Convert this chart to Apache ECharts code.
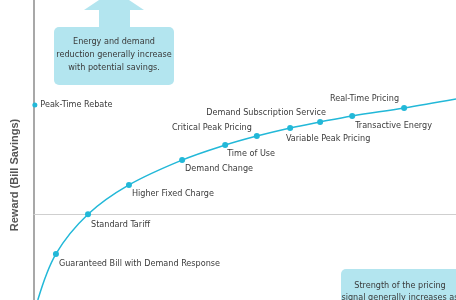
<!DOCTYPE html>
<html>
<head>
<meta charset="utf-8">
<style>html,body{margin:0;padding:0;background:#fff}#c{width:456px;height:300px}</style>
<script src="https://cdn.jsdelivr.net/npm/echarts@6/dist/echarts.min.js"></script>
</head>
<body>
<div id="c"></div>
<script>
// Rate designs along the risk/reward curve (x: signal strength, y: reward)
var names = ['Guaranteed Bill with Demand Response','Standard Tariff','Higher Fixed Charge','Demand Change','Time of Use','Critical Peak Pricing','Demand Subscription Service','Variable Peak Pricing','Transactive Energy','Real-Time Pricing'];
var xVals = [5.2, 12.8, 22.5, 35.1, 45.3, 52.8, 60.7, 67.8, 75.4, 87.7];
var yVals = [-18.5, 0, 13.7, 25.3, 32.3, 36.5, 40.3, 43.1, 45.9, 49.6];
// curve continues beyond the labelled designs at both ends
var curveStart = [0.9, -40];
var curveEnd = [100, 53.8];
// separate design placed on the reward axis
var ptrName = 'Peak-Time Rebate';
var ptrPoint = [0.2, 51.0];

var FONT = "'Liberation Sans Narrow','DejaVu Sans Condensed',sans-serif";
var CYAN = '#22b8d8';
var BOX = '#b3e5ef';
var TXT = '#3a3a3a';
// label placement: [dx, dy, align] relative to point centre
var place = [[3,10,'left'],[3,10,'left'],[3,9,'left'],[3,9,'left'],[2,9,'left'],[-5,-8,'right'],[-24,-15,'center'],[8,17,'center'],[3,10,'left'],[-5,-9,'right']];

var lineData = [{value: curveStart, symbol: 'none', label: {show: false}}];
for (var i = 0; i < names.length; i++) {
  var p = place[i];
  lineData.push({
    value: [xVals[i], yVals[i]],
    name: names[i],
    label: {show: true, position: [p[0] + 3, p[1] + 3], align: p[2], verticalAlign: 'middle'}
  });
}
lineData.push({value: curveEnd, symbol: 'none', label: {show: false}});

var chart = echarts.init(document.getElementById('c'), null, {renderer: 'canvas'});
chart.setOption({
  animation: false,
  grid: {left: 34, right: 0, top: 0, bottom: 0, containLabel: false},
  xAxis: {type: 'value', min: 0, max: 100, axisLine: {show: true, onZero: true, lineStyle: {color: '#cfcfcf', width: 1}}, axisTick: {show: false}, axisLabel: {show: false}, splitLine: {show: false}},
  yAxis: {type: 'value', min: -40, max: 100, axisLine: {show: true, onZero: false, lineStyle: {color: '#a8a8a8', width: 2}}, axisTick: {show: false}, axisLabel: {show: false}, splitLine: {show: false}},
  series: [
    {type: 'line', data: lineData, smooth: 0.35, symbol: 'circle', symbolSize: 6, clip: false,
     lineStyle: {color: CYAN, width: 1.5}, itemStyle: {color: CYAN},
     label: {show: true, formatter: '{b}', color: TXT, fontFamily: FONT, fontSize: 9}},
    {type: 'scatter', data: [{value: ptrPoint, name: ptrName}], symbol: 'circle', symbolSize: 5, itemStyle: {color: CYAN, opacity: 1}, z: 5,
     label: {show: true, position: 'right', distance: 3, formatter: '{b}', color: TXT, opacity: 1, fontFamily: FONT, fontSize: 9}}
  ],
  graphic: [
    {type: 'polygon', shape: {points: [[84,10],[144,10],[114,-10]]}, style: {fill: BOX}},
    {type: 'rect', shape: {x: 99, y: 9, width: 31, height: 19}, style: {fill: BOX}},
    {type: 'rect', shape: {x: 54, y: 27, width: 120, height: 58, r: 5}, style: {fill: BOX}},
    {type: 'text', x: 114, y: 55, style: {text: 'Energy and demand\nreduction generally increase\nwith potential savings.', align: 'center', verticalAlign: 'middle', lineHeight: 13, fill: TXT, font: '9px ' + FONT}},
    {type: 'rect', shape: {x: 341, y: 269, width: 140, height: 60, r: 5}, style: {fill: BOX}},
    {type: 'text', x: 400, y: 280, style: {text: 'Strength of the pricing\nsignal generally increases as\nrisk increases.', align: 'center', verticalAlign: 'top', lineHeight: 12, fill: TXT, font: '9px ' + FONT}},
    {type: 'text', x: 15, y: 175, rotation: Math.PI / 2, style: {text: 'Reward (Bill Savings)', align: 'center', verticalAlign: 'middle', fill: '#555', font: 'bold 11px Arial, "Liberation Sans", sans-serif'}}
  ]
});
</script>
</body>
</html>
